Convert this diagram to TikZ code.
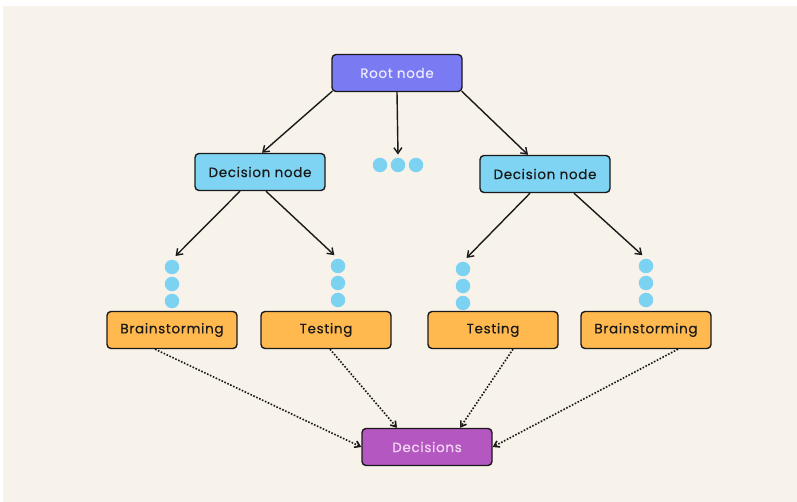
\documentclass[tikz,border=0pt]{standalone}
\usepackage{fontspec}
\setmainfont{Poppins}[LetterSpace=5, FakeBold=0.4]
\usetikzlibrary{arrows.meta,positioning,calc}
\definecolor{paper}{HTML}{F7F2EA}
\definecolor{ink}{HTML}{1A1A1A}
\definecolor{rootfill}{HTML}{7A7AF3}
\definecolor{rootink}{HTML}{ECEBFF}
\definecolor{decfill}{HTML}{7FD4F4}
\definecolor{optfill}{HTML}{FFB94F}
\definecolor{endfill}{HTML}{B557C1}
\definecolor{endink}{HTML}{F3D6F4}
\definecolor{dotblue}{HTML}{7CD2F1}
\tikzset{
  treebox/.style = {rectangle, draw=ink, line width=1.4pt, rounded corners=4pt,
                    minimum width=130pt, minimum height=37pt, inner sep=3pt,
                    font=\fontsize{13.5}{15}\selectfont, text=ink, align=center},
  rootbox/.style = {treebox, fill=rootfill, text=rootink},
  decbox/.style  = {treebox, fill=decfill},
  optbox/.style  = {treebox, fill=optfill},
  endbox/.style  = {treebox, fill=endfill, text=endink},
  ball/.style    = {circle, fill=dotblue, minimum size=14.5pt, inner sep=0pt},
  flow/.style    = {-{Straight Barb[length=2mm,width=2.8mm]}, line width=1.4pt, draw=ink},
  hint/.style    = {-{Straight Barb[length=1.8mm,width=2.4mm]}, line width=1.6pt,
                    dash pattern=on 1.6pt off 1.6pt, draw=ink}
}
\begin{document}
\begin{tikzpicture}[x=1pt, y=-1pt]
    \useasboundingbox (0,0) rectangle (797,502);
    \fill[white] (0,0) rectangle (797,502);
    \fill[paper] (3,6) rectangle (797,502);
    % top of the tree
    \node[rootbox] (root) at (397,73) {Root node};
    \node[decbox] (decl) at (260,172) {Decision node};
    \node[decbox] (decr) at (545,174) {Decision node};
    \node[ball] (m1) at (380,165) {};
    \node[ball] (m2) at (398,165) {};
    \node[ball] (m3) at (416,165) {};
    % dot columns
    \foreach \nm/\x/\y in {la/172/267, lb/338/266, ra/463/269, rb/646/266} {
      \node[ball] (\nm1) at (\x,\y) {};
      \node[ball] (\nm2) at (\x,\y+17) {};
      \node[ball] (\nm3) at (\x,\y+34) {};
    }
    % options
    \node[optbox] (bl) at (172,330) {Brainstorming};
    \node[optbox] (tl) at (326,330) {Testing};
    \node[optbox] (tr) at (493,330) {Testing};
    \node[optbox] (br) at (646,330) {Brainstorming};
    \node[endbox] (out) at (427,447) {Decisions};
    \draw[flow] ([xshift=1pt,yshift=1pt]root.south west) -- ([xshift=2pt]decl.north);
    \draw[flow] (root.south) -- ([yshift=3pt]m2.north);
    \draw[flow] ([xshift=-1pt,yshift=1pt]root.south east) -- ([xshift=-17pt]decr.north);
    \draw[flow, shorten >=5pt] ([xshift=-20pt]decl.south) -- (la1.north);
    \draw[flow, shorten >=5pt] ([xshift=6pt]decl.south) -- (lb1.north);
    \draw[flow, shorten >=5pt] ([xshift=-15pt]decr.south) -- (ra1.north);
    \draw[flow, shorten >=5pt] ([xshift=29pt]decr.south) -- (rb1.north);
    \draw[hint] ([xshift=-17pt]bl.south) -- (out.west);
    \draw[hint] ([xshift=4pt]tl.south) -- ([xshift=-30pt]out.north);
    \draw[hint] ([xshift=20pt]tr.south) -- ([xshift=33pt]out.north);
    \draw[hint] ([xshift=32pt]br.south) -- (out.east);
  \end{tikzpicture}
\end{document}
